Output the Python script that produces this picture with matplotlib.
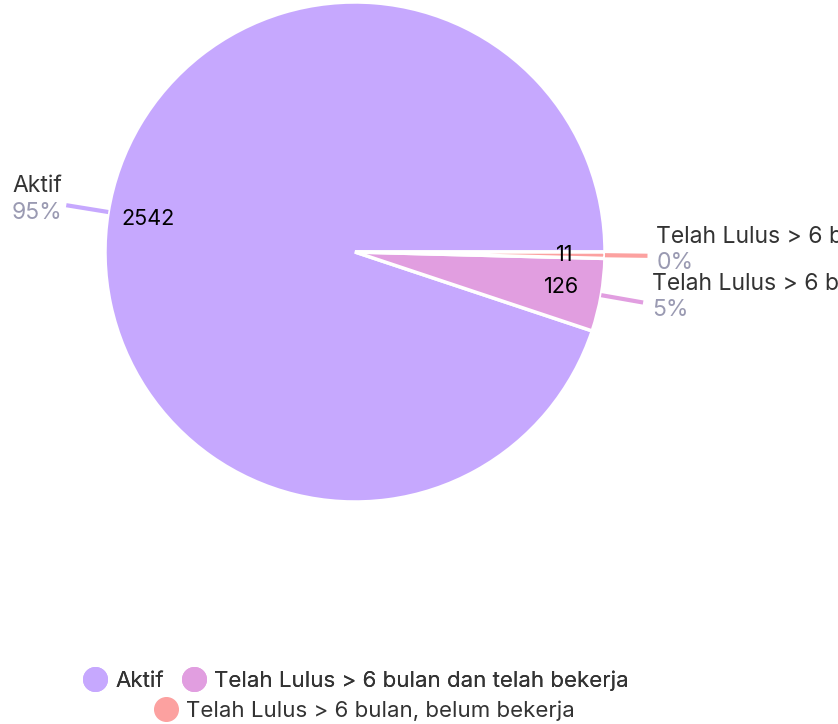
import numpy as np
import matplotlib.pyplot as plt
from matplotlib.lines import Line2D

plt.rcParams['font.family'] = ['Inter', 'DejaVu Sans']

labels = ['Aktif', 'Telah Lulus > 6 bulan dan telah bekerja', 'Telah Lulus > 6 bulan, belum bekerja']
values = [2542, 126, 11]
colors = ['#c6a8fe', '#e19ee0', '#fca1a0']

W, H = 838, 724
fig = plt.figure(figsize=(W / 100, H / 100), dpi=100)
# pie centre (355, 252) px, radius 250 px
cx, cy, r = 355, 252, 250
ax = fig.add_axes([(cx - r) / W, (H - cy - r) / H, 2 * r / W, 2 * r / H])

wedges, _ = ax.pie(values, colors=colors, startangle=0, counterclock=True, radius=1,
                   wedgeprops=dict(edgecolor='white', linewidth=2.5))
ax.set_xlim(-1, 1)
ax.set_ylim(-1, 1)
ax.set_aspect('equal')
ax.axis('off')

total = sum(values)
for w, lab, v, c in zip(wedges, labels, values, colors):
    mid = np.deg2rad((w.theta1 + w.theta2) / 2)
    cs, sn = np.cos(mid), np.sin(mid)
    # value inside the slice
    ax.text(0.84 * cs, 0.82 * sn, str(v), ha='center', va='center', fontsize=15.5, color='black')
    # leader line
    x0, y0 = 1.0 * cs, 1.0 * sn
    x1, y1 = 1.17 * cs, 1.17 * sn
    ax.plot([x0, x1], [y0, y1], color=c, lw=3, solid_capstyle='butt', clip_on=False)
    pct = f"{round(v / total * 100):.0f}%"
    if cs < 0:
        tx, ha = x1 - 0.015, 'right'
    else:
        tx, ha = x1 + 0.035, 'left'
    ax.text(tx, y1 + 0.075, lab, ha=ha, va='center', fontsize=16.5, color='#333333', clip_on=False)
    ax.text(tx, y1 - 0.03, pct, ha=ha, va='center', fontsize=16.5, color='#9a9ab2', clip_on=False)

def handle(c):
    return Line2D([], [], marker='o', linestyle='none', markersize=17,
                  markerfacecolor=c, markeredgecolor=c)

leg1 = fig.legend([handle(colors[0]), handle(colors[1])], labels[:2], ncol=2,
                  loc='center', bbox_to_anchor=(356 / W, 1 - 681 / H), frameon=False,
                  fontsize=16, handletextpad=0.35, columnspacing=0.8, handlelength=1.1,
                  labelcolor='#333333')
fig.add_artist(leg1)
fig.legend([handle(colors[2])], labels[2:], loc='center',
           bbox_to_anchor=(364 / W, 1 - 711 / H), frameon=False,
           fontsize=16, handletextpad=0.35, handlelength=1.1, labelcolor='#333333')

fig.savefig('out.png', dpi=100)
